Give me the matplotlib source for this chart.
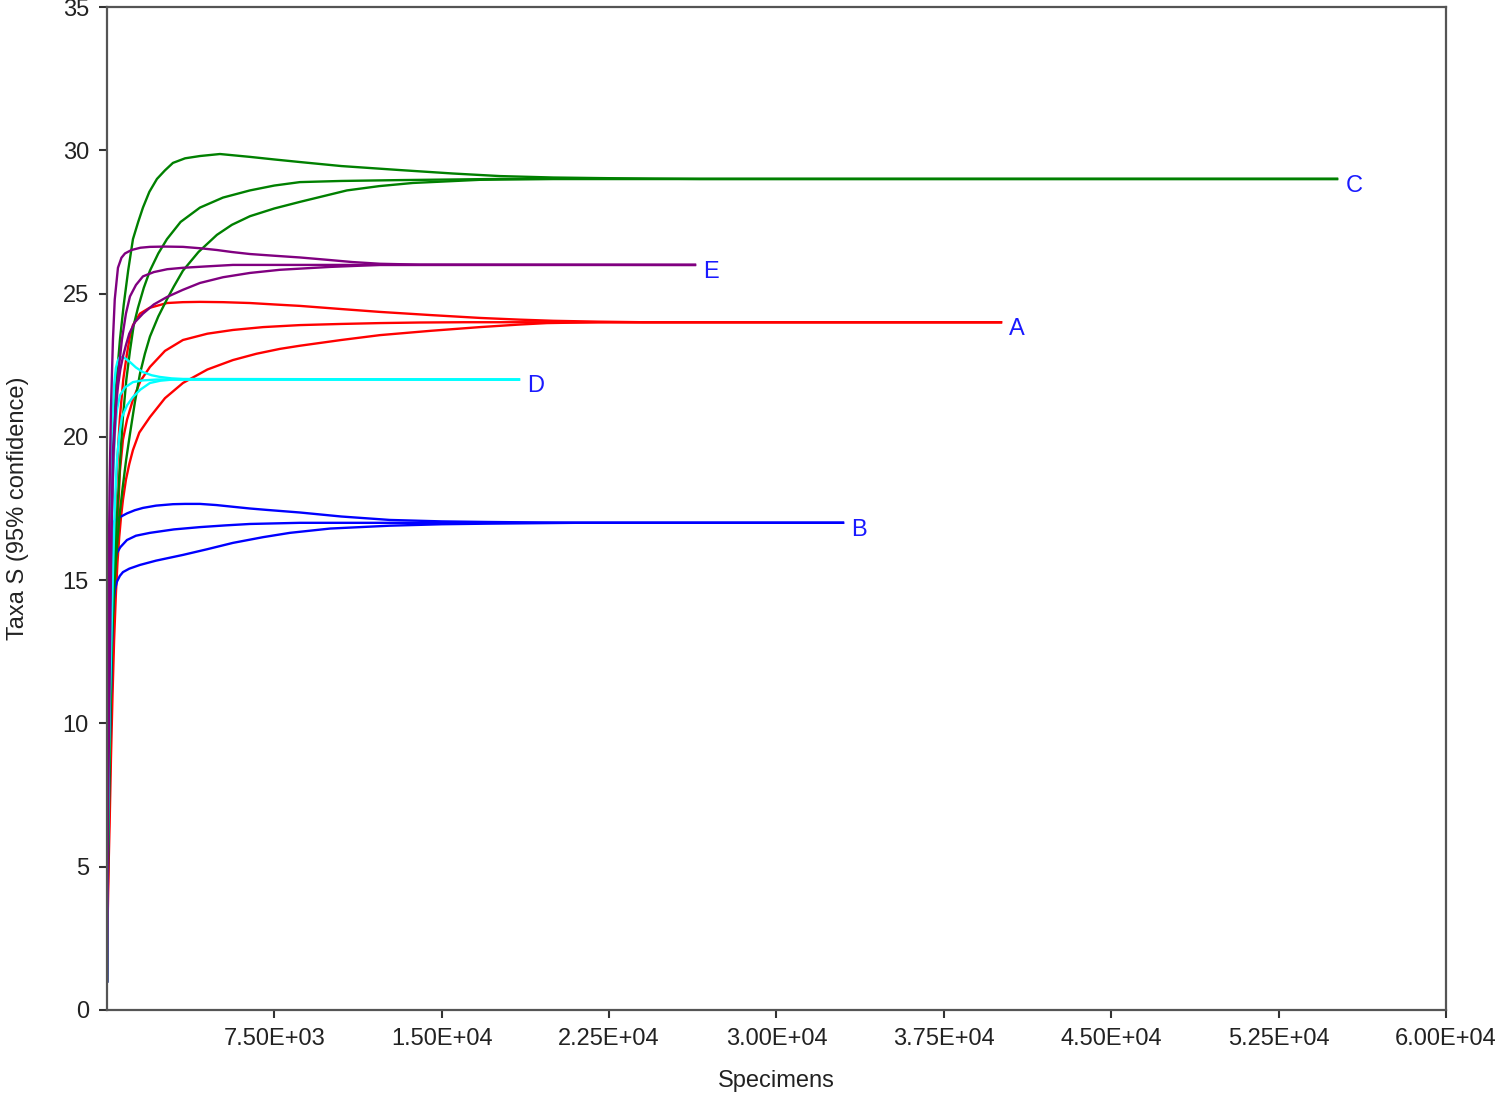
"""
Rarefaction curves (with 95% confidence bounds) for samples A-E.
Taxa S against number of specimens.
"""

import matplotlib
matplotlib.use("Agg")
import matplotlib.pyplot as plt
from matplotlib.ticker import FuncFormatter

plt.rcParams["font.family"] = ["Liberation Sans", "DejaVu Sans"]

# ── Sample A (red) ───────────────────────────────────────────────────────────
a_n_up = [1, 15, 40, 100, 170, 250, 320, 400, 490, 583, 730, 896, 1030, 1165,
          1479, 1900, 2689, 3400, 4167, 5200, 6408, 7500, 8648, 10500, 12233,
          14500, 16714, 18500, 20000, 22000, 24000, 40060]
a_s_up = [1, 2.5, 5, 8, 11.2, 14, 16.2, 18, 19.5, 20.7, 22.0, 22.9, 23.5, 23.9,
          24.3, 24.5, 24.67, 24.7, 24.71, 24.7, 24.67, 24.62, 24.57, 24.46,
          24.36, 24.25, 24.15, 24.09, 24.05, 24.02, 24.0, 24.0]
a_n_mid = [1, 15, 40, 100, 170, 250, 340, 448, 580, 717, 900, 1165, 1500, 1927,
           2600, 3406, 4500, 5646, 7000, 8648, 10500, 12233, 14000, 16000,
           40060]
a_s_mid = [1, 2.2, 4.2, 7, 9.8, 12, 14.3, 16.5, 18.8, 19.9, 20.6, 21.3, 21.95,
           22.44, 23.0, 23.38, 23.6, 23.73, 23.83, 23.9, 23.94, 23.97, 23.99,
           24.0, 24.0]
a_n_lo = [1, 15, 40, 80, 120, 180, 250, 320, 400, 470, 550, 630, 717, 850,
          1000, 1165, 1450, 1927, 2600, 3406, 4500, 5646, 6700, 7752, 8648,
          10500, 12233, 14500, 16714, 18500, 19716, 22000, 40060]
a_s_lo = [1, 2, 3.5, 5.2, 6.5, 8.8, 11, 12.9, 14.5, 15.6, 16.5, 17.2, 17.8,
          18.5, 19.05, 19.54, 20.15, 20.69, 21.35, 21.88, 22.35, 22.68, 22.9,
          23.07, 23.18, 23.38, 23.55, 23.7, 23.83, 23.92, 23.97, 24.0, 24.0]

# ── Sample B (blue) ──────────────────────────────────────────────────────────
b_n_up = [1, 10, 25, 50, 85, 120, 160, 200, 240, 269, 320, 420, 583, 900,
          1250, 1613, 2200, 2957, 3500, 4167, 4900, 5646, 6400, 7170, 8648,
          10500, 12681, 15000, 17000, 21000, 32980]
b_s_up = [1, 3.5, 6, 8.5, 10.8, 12.5, 14, 15.3, 16.4, 16.95, 17.05, 17.12,
          17.2, 17.33, 17.44, 17.52, 17.6, 17.65, 17.66, 17.66, 17.62, 17.56,
          17.5, 17.45, 17.36, 17.22, 17.1, 17.05, 17.03, 17.0, 17.0]
b_n_mid = [1, 10, 30, 60, 100, 150, 220, 300, 370, 448, 600, 896, 1300, 1927,
           3000, 4167, 5300, 6408, 8648, 11000, 15000, 32980]
b_s_mid = [1, 2.8, 5.5, 8.2, 10.5, 12.3, 14.0, 15.2, 15.7, 15.95, 16.15, 16.4,
           16.55, 16.65, 16.77, 16.85, 16.91, 16.96, 17.0, 17.0, 17.0, 17.0]
b_n_lo = [1, 15, 40, 80, 130, 180, 230, 269, 310, 358, 450, 580, 717, 1000,
          1479, 2200, 3406, 4500, 5646, 7000, 8200, 10000, 12681, 15000, 17000,
          21000, 32980]
b_s_lo = [1, 2.5, 4.8, 7, 9.3, 11, 12.8, 13.85, 14.3, 14.66, 14.95, 15.15,
          15.28, 15.4, 15.53, 15.68, 15.88, 16.08, 16.3, 16.5, 16.65, 16.8,
          16.9, 16.95, 16.97, 17.0, 17.0]

# ── Sample C (green) ─────────────────────────────────────────────────────────
c_n_up = [1, 10, 25, 50, 100, 170, 260, 380, 583, 750, 950, 1165, 1400, 1613,
          1900, 2240, 2600, 2957, 3500, 4167, 5064, 6408, 7500, 8648, 10500,
          13129, 15500, 17610, 20000, 22091, 24500, 26572, 55116]
c_s_up = [1, 3.5, 6.5, 9.5, 13.5, 16.8, 19.3, 21.5, 23.4, 24.6, 25.8, 26.9,
          27.5, 28.0, 28.55, 29.0, 29.3, 29.56, 29.72, 29.8, 29.87, 29.77,
          29.68, 29.59, 29.45, 29.31, 29.19, 29.1, 29.05, 29.03, 29.01, 29.0,
          29.0]
c_n_mid = [1, 10, 30, 60, 100, 150, 220, 300, 390, 493, 600, 717, 870, 1031,
           1200, 1389, 1650, 1927, 2300, 2689, 3300, 4167, 5200, 6408, 7500,
           8648, 10500, 13129, 17610, 55116]
c_s_mid = [1, 2.5, 5, 7, 9.5, 11.5, 13.4, 15.0, 16.5, 17.8, 19.3, 20.7, 22.0,
           23.0, 23.9, 24.5, 25.2, 25.8, 26.4, 26.9, 27.5, 28.0, 28.35, 28.6,
           28.77, 28.89, 28.93, 28.96, 29.0, 29.0]
c_n_lo = [1, 10, 25, 50, 80, 140, 224, 330, 450, 570, 700, 860, 1031, 1250,
          1479, 1700, 1927, 2300, 2689, 3000, 3406, 4100, 4929, 5600, 6408,
          7500, 8648, 10754, 12200, 13712, 16714, 20000, 55116]
c_s_lo = [1, 2, 3.5, 5, 6.5, 9.5, 12.9, 14.8, 16.2, 17.3, 18.2, 19.2, 20.1,
          21.2, 22.2, 22.9, 23.5, 24.2, 24.8, 25.25, 25.8, 26.45, 27.05, 27.4,
          27.7, 27.97, 28.2, 28.6, 28.75, 28.86, 28.97, 29.0, 29.0]

# ── Sample D (cyan) ──────────────────────────────────────────────────────────
d_n_up = [1, 10, 25, 50, 80, 120, 170, 224, 269, 330, 400, 480, 583, 800,
          1031, 1300, 1613, 2000, 2375, 2900, 3406, 18462]
d_s_up = [1, 3.5, 6.5, 10, 12.7, 15, 17.5, 19.54, 21.0, 21.9, 22.4, 22.65,
          22.79, 22.75, 22.61, 22.42, 22.26, 22.15, 22.09, 22.04, 22.02, 22.0]
d_n_mid = [1, 10, 30, 60, 100, 150, 220, 290, 358, 450, 583, 800, 1165, 1600,
           2240, 18462]
d_s_mid = [1, 3, 6, 9, 11.7, 14, 16.8, 18.8, 20.13, 20.95, 21.45, 21.72, 21.91,
           21.97, 22.0, 22.0]
d_n_lo = [1, 15, 40, 80, 140, 200, 270, 350, 448, 560, 672, 900, 1165, 1500,
          1927, 2400, 2957, 18462]
d_s_lo = [1, 3, 5.5, 8, 11, 13, 15.3, 17.5, 19.2, 20.1, 20.69, 21.1, 21.39,
          21.65, 21.88, 21.96, 22.0, 22.0]

# ── Sample E (purple) ────────────────────────────────────────────────────────
e_n_up = [1, 10, 25, 50, 80, 120, 180, 269, 350, 493, 650, 807, 1100, 1500,
          1927, 2600, 3406, 4200, 4929, 5600, 6408, 7500, 8648, 9992, 11000,
          12233, 14000, 26348]
e_s_up = [1, 4.5, 8.5, 12.5, 15.5, 18.3, 21.0, 23.4, 24.8, 25.9, 26.25, 26.4,
          26.52, 26.6, 26.63, 26.64, 26.63, 26.58, 26.52, 26.45, 26.38, 26.32,
          26.26, 26.17, 26.1, 26.04, 26.01, 26.0]
e_n_mid = [1, 10, 30, 60, 100, 150, 220, 300, 450, 672, 850, 1031, 1300, 1613,
           2100, 2700, 3406, 4500, 5646, 8000, 26348]
e_s_mid = [1, 3, 6.5, 10, 12.8, 15, 17.4, 19.5, 21.8, 23.4, 24.3, 24.9, 25.3,
           25.6, 25.75, 25.85, 25.9, 25.95, 26.0, 26.0, 26.0]
e_n_lo = [1, 10, 25, 50, 80, 140, 200, 269, 380, 500, 600, 717, 850, 1000,
          1250, 1613, 2100, 2689, 3400, 4167, 5200, 6408, 7752, 9992, 12233,
          26348]
e_s_lo = [1, 2.5, 4.5, 7, 9, 12.8, 16.5, 19.5, 20.9, 21.8, 22.35, 22.8, 23.2,
          23.6, 24.0, 24.3, 24.62, 24.88, 25.13, 25.37, 25.57, 25.72, 25.83,
          25.93, 26.0, 26.0]

samples = [
    ("A", "#ff0000", (a_n_lo, a_s_lo), (a_n_mid, a_s_mid), (a_n_up, a_s_up)),
    ("B", "#0000ff", (b_n_lo, b_s_lo), (b_n_mid, b_s_mid), (b_n_up, b_s_up)),
    ("C", "#008000", (c_n_lo, c_s_lo), (c_n_mid, c_s_mid), (c_n_up, c_s_up)),
    ("D", "#00ffff", (d_n_lo, d_s_lo), (d_n_mid, d_s_mid), (d_n_up, d_s_up)),
    ("E", "#800080", (e_n_lo, e_s_lo), (e_n_mid, e_s_mid), (e_n_up, e_s_up)),
]

x_ticks = [7500, 15000, 22500, 30000, 37500, 45000, 52500, 60000]
y_ticks = [0, 5, 10, 15, 20, 25, 30, 35]

fig = plt.figure(figsize=(15, 10.96), dpi=100)
ax = fig.add_axes([0.0713, 0.0785, 0.8927, 0.9151])

for label, color, lo, mid, up in samples:
    for n, s in (lo, mid, up):
        ax.plot(n, s, color=color, lw=1.7, solid_joinstyle="round")
    # sample label just past the end of the mean curve
    ax.annotate(label, xy=(mid[0][-1], mid[1][-1]), xytext=(6, -5),
                textcoords="offset points", ha="left", va="center",
                fontsize=17, color="#1a1aff")

ax.set_xlim(0, 60000)
ax.set_ylim(0, 35)
ax.set_xticks(x_ticks)
ax.set_yticks(y_ticks)
ax.xaxis.set_major_formatter(FuncFormatter(lambda v, p: f"{v:.2E}"))

for side in ("left", "right", "top", "bottom"):
    ax.spines[side].set_color("#555555")
    ax.spines[side].set_linewidth(1.6)

ax.tick_params(axis="both", direction="out", length=6, width=1.5,
               color="#333333", labelsize=17, labelcolor="#222222", pad=7)

ax.set_xlabel("Specimens", fontsize=17, color="#222222")
ax.set_ylabel("Taxa S (95% confidence)", fontsize=17, color="#222222")
ax.xaxis.set_label_coords(0.5, -0.06)
ax.yaxis.set_label_coords(-0.058, 0.5)

fig.savefig("out.png", dpi=100)
